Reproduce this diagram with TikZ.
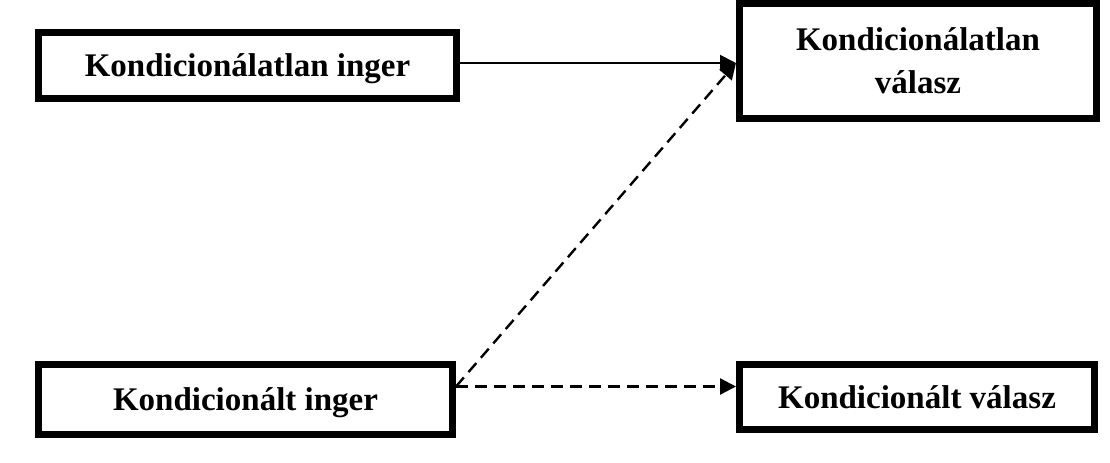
\documentclass[tikz,border=0pt]{standalone}
\usepackage{fontspec}
\setmainfont{Liberation Serif}
\usetikzlibrary{arrows.meta,positioning}

\begin{document}
\begin{tikzpicture}[
    x=0.5pt, y=-0.5pt,
    box/.style={rectangle, draw, line width=3.6pt, inner sep=0pt, align=center, text depth=0pt, font=\fontsize{16.5pt}{21.5pt}\selectfont\bfseries},
    arrow/.style={-{Triangle[length=8pt, width=8pt]}, line width=1pt},
    dasharrow/.style={arrow, line width=1.2pt, dash pattern=on 6pt off 3.5pt}
]
\useasboundingbox (0,0) rectangle (1110,462);
\node[box, minimum width=208.9pt, minimum height=32.9pt] (ktlinger) at (247.5,65.5) {Kondicionálatlan inger};
\node[box, minimum width=178.4pt, minimum height=57.4pt] (ktlvalasz) at (918,61) {Kondicionálatlan\\válasz};
\node[box, minimum width=206.9pt, minimum height=34.9pt] (ktinger) at (245.5,399.5) {Kondicionált inger};
\node[box, minimum width=177.4pt, minimum height=32.4pt] (ktvalasz) at (917,397) {Kondicionált válasz};

\coordinate (tlstart) at ([yshift=1.25pt]ktlinger.east);
\coordinate (tstart) at ([yshift=6.5pt]ktinger.east);

\draw[arrow] (tlstart) -- (tlstart -| ktlvalasz.west);
\draw[dasharrow] (tstart) -- (tlstart -| ktlvalasz.west);
\draw[dasharrow] (tstart) -- (tstart -| ktvalasz.west);
\end{tikzpicture}
\end{document}
